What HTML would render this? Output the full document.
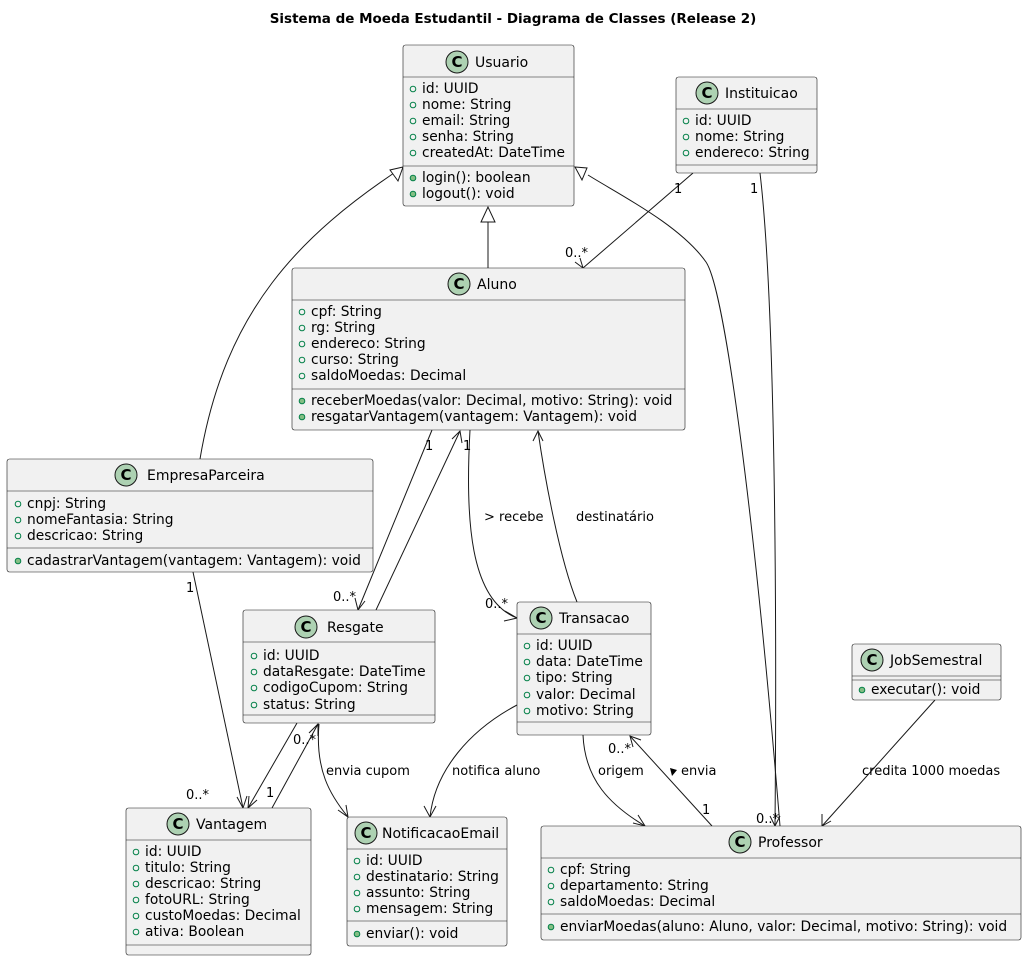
<!DOCTYPE html>
<html><head><meta charset="utf-8"><style>
html,body{margin:0;padding:0;background:#fff;}
svg{display:block;font-family:"DejaVu Sans","Liberation Sans",sans-serif;}
.b{fill:#F1F1F1;stroke:#181818;stroke-width:0.6;}
.s{stroke:#181818;stroke-width:0.6;}
.t{font-size:14px;fill:#000;}
.a{font-size:13.8px;fill:#000;}
.ci{fill:#ADD1B2;stroke:#181818;stroke-width:1;}
.cl{font-size:15px;font-weight:bold;fill:#000;}
.ho{fill:none;stroke:#038048;stroke-width:1;}
.fo{fill:#84BE84;stroke:#038048;stroke-width:1;}
.e{fill:none;stroke:#181818;stroke-width:1;}
.l{font-size:13px;fill:#000;}
</style></head><body>
<svg width="1027" height="960" viewBox="0 0 1027 960" xmlns="http://www.w3.org/2000/svg">
<text x="513" y="23" text-anchor="middle" style="font-size:13.5px;font-weight:bold">Sistema de Moeda Estudantil - Diagrama de Classes (Release 2)</text>

<!-- edges -->
<path class="e" d="M200,459 C225,310 300,235 403,167"/>
<polygon points="403,167 390,170 398,181" fill="#fff" stroke="#181818"/>
<line class="e" x1="488" y1="268" x2="488" y2="222"/>
<polygon points="488,207 481,222 495,222" fill="#fff" stroke="#181818"/>
<path class="e" d="M780,826 C755,520 725,290 706,262 C680,225 620,195 588,175"/>
<polygon points="575,167 587,168 582,180" fill="#fff" stroke="#181818"/>
<line class="e" x1="693" y1="173" x2="583" y2="268"/>
<path class="e" d="M575,262 L583,268 L580,258"/>
<text class="l" x="674" y="193">1</text><text class="l" x="565" y="257">0..*</text>
<path class="e" d="M760,173 C775,300 777,600 775,826"/>
<path class="e" d="M770,816 L775,826 L780,816"/>
<text class="l" x="750" y="193">1</text><text class="l" x="756" y="823">0..*</text>
<line class="e" x1="432" y1="430" x2="358" y2="610"/>
<path class="e" d="M355,598 L358,610 L365,601"/>
<text class="l" x="425" y="450">1</text><text class="l" x="333" y="601">0..*</text>
<line class="e" x1="376" y1="610" x2="460" y2="431"/>
<path class="e" d="M452,439 L460,431 L462,443"/>
<path class="e" d="M470,430 C465,520 470,600 517,618"/>
<path class="e" d="M505,611 L517,618 L504,621"/>
<text class="l" x="463" y="450">1</text><text class="l" x="485" y="608">0..*</text>
<text class="l" x="484" y="521">&gt; recebe</text>
<path class="e" d="M577,602 C560,560 545,480 538,431"/>
<path class="e" d="M533,441 L538,431 L543,441"/>
<text class="l" x="576" y="521">destinatário</text>
<path class="e" d="M517,705 C470,730 435,770 430,817"/>
<path class="e" d="M424,806 L430,817 L436,806"/>
<text class="l" x="452" y="775">notifica aluno</text>
<path class="e" d="M583,735 C585,780 610,805 645,826"/>
<path class="e" d="M633,823 L645,826 L638,815"/>
<text class="l" x="598" y="775">origem</text>
<line class="e" x1="712" y1="826" x2="630" y2="736"/>
<path class="e" d="M633,747 L630,736 L641,740"/>
<text class="l" x="702" y="814">1</text><text class="l" x="608" y="753">0..*</text>
<polygon points="670,768 677,770 672,776" fill="#000"/>
<text class="l" x="681" y="775">envia</text>
<line class="e" x1="935" y1="700" x2="822" y2="826"/>
<path class="e" d="M822,814 L822,826 L831,821"/>
<text class="l" x="862" y="775">credita 1000 moedas</text>
<line class="e" x1="193" y1="572" x2="243" y2="808"/>
<path class="e" d="M237,797 L243,808 L247,796"/>
<text class="l" x="186" y="592">1</text><text class="l" x="186" y="799">0..*</text>
<line class="e" x1="297" y1="723" x2="248" y2="808"/>
<path class="e" d="M249,796 L248,808 L257,800"/>
<line class="e" x1="272" y1="808" x2="318" y2="724"/>
<path class="e" d="M309,733 L318,724 L318,736"/>
<text class="l" x="266" y="797">1</text><text class="l" x="293" y="744">0..*</text>
<path class="e" d="M319,724 C315,770 330,795 348,817"/>
<path class="e" d="M338,810 L348,817 L346,805"/>
<text class="l" x="326" y="775">envia cupom</text>

<!-- Usuario -->
<rect class="b" x="403" y="45" width="171" height="161" rx="2.5"/>
<circle class="ci" cx="457" cy="62" r="11"/><text class="cl" x="457" y="67" text-anchor="middle">C</text>
<text class="t" x="475" y="67">Usuario</text>
<line class="s" x1="403" y1="77" x2="574" y2="77"/>
<g class="a"><circle class="ho" cx="413" cy="89" r="2.8"/><text x="422" y="93">id: UUID</text>
<circle class="ho" cx="413" cy="105" r="2.8"/><text x="422" y="109">nome: String</text>
<circle class="ho" cx="413" cy="121" r="2.8"/><text x="422" y="125">email: String</text>
<circle class="ho" cx="413" cy="137" r="2.8"/><text x="422" y="141">senha: String</text>
<circle class="ho" cx="413" cy="153" r="2.8"/><text x="422" y="157">createdAt: DateTime</text></g>
<line class="s" x1="403" y1="166" x2="574" y2="166"/>
<g class="a"><circle class="fo" cx="413" cy="178" r="2.8"/><text x="422" y="182">login(): boolean</text>
<circle class="fo" cx="413" cy="194" r="2.8"/><text x="422" y="198">logout(): void</text></g>

<!-- Instituicao -->
<rect class="b" x="676" y="77" width="141" height="96" rx="2.5"/>
<circle class="ci" cx="707" cy="93" r="11"/><text class="cl" x="707" y="98" text-anchor="middle">C</text>
<text class="t" x="725" y="98">Instituicao</text>
<line class="s" x1="676" y1="109" x2="817" y2="109"/>
<g class="a"><circle class="ho" cx="686" cy="121" r="2.8"/><text x="695" y="125">id: UUID</text>
<circle class="ho" cx="686" cy="137" r="2.8"/><text x="695" y="141">nome: String</text>
<circle class="ho" cx="686" cy="153" r="2.8"/><text x="695" y="157">endereco: String</text></g>
<line class="s" x1="676" y1="165" x2="817" y2="165"/>

<!-- Aluno -->
<rect class="b" x="292" y="268" width="393" height="162" rx="2.5"/>
<circle class="ci" cx="459" cy="284" r="11"/><text class="cl" x="459" y="289" text-anchor="middle">C</text>
<text class="t" x="477" y="289">Aluno</text>
<line class="s" x1="292" y1="300" x2="685" y2="300"/>
<g class="a"><circle class="ho" cx="302" cy="312" r="2.8"/><text x="311" y="316">cpf: String</text>
<circle class="ho" cx="302" cy="328" r="2.8"/><text x="311" y="332">rg: String</text>
<circle class="ho" cx="302" cy="344" r="2.8"/><text x="311" y="348">endereco: String</text>
<circle class="ho" cx="302" cy="360" r="2.8"/><text x="311" y="364">curso: String</text>
<circle class="ho" cx="302" cy="376" r="2.8"/><text x="311" y="380">saldoMoedas: Decimal</text></g>
<line class="s" x1="292" y1="389" x2="685" y2="389"/>
<g class="a"><circle class="fo" cx="302" cy="401" r="2.8"/><text x="311" y="405">receberMoedas(valor: Decimal, motivo: String): void</text>
<circle class="fo" cx="302" cy="417" r="2.8"/><text x="311" y="421">resgatarVantagem(vantagem: Vantagem): void</text></g>

<!-- EmpresaParceira -->
<rect class="b" x="7" y="459" width="366" height="113" rx="2.5"/>
<circle class="ci" cx="126" cy="475" r="11"/><text class="cl" x="126" y="480" text-anchor="middle">C</text>
<text class="t" x="147" y="480">EmpresaParceira</text>
<line class="s" x1="7" y1="491" x2="373" y2="491"/>
<g class="a"><circle class="ho" cx="18" cy="504" r="2.8"/><text x="27" y="508">cnpj: String</text>
<circle class="ho" cx="18" cy="520" r="2.8"/><text x="27" y="524">nomeFantasia: String</text>
<circle class="ho" cx="18" cy="536" r="2.8"/><text x="27" y="540">descricao: String</text></g>
<line class="s" x1="7" y1="548" x2="373" y2="548"/>
<g class="a"><circle class="fo" cx="18" cy="561" r="2.8"/><text x="27" y="565">cadastrarVantagem(vantagem: Vantagem): void</text></g>

<!-- Resgate -->
<rect class="b" x="243" y="610" width="192" height="113" rx="2.5"/>
<circle class="ci" cx="306" cy="627" r="11"/><text class="cl" x="306" y="632" text-anchor="middle">C</text>
<text class="t" x="327" y="632">Resgate</text>
<line class="s" x1="243" y1="642" x2="435" y2="642"/>
<g class="a"><circle class="ho" cx="254" cy="656" r="2.8"/><text x="263" y="660">id: UUID</text>
<circle class="ho" cx="254" cy="672" r="2.8"/><text x="263" y="676">dataResgate: DateTime</text>
<circle class="ho" cx="254" cy="688" r="2.8"/><text x="263" y="692">codigoCupom: String</text>
<circle class="ho" cx="254" cy="705" r="2.8"/><text x="263" y="709">status: String</text></g>
<line class="s" x1="243" y1="715" x2="435" y2="715"/>

<!-- Transacao -->
<rect class="b" x="517" y="602" width="134" height="133" rx="2.5"/>
<circle class="ci" cx="541" cy="618" r="11"/><text class="cl" x="541" y="623" text-anchor="middle">C</text>
<text class="t" x="559" y="623">Transacao</text>
<line class="s" x1="517" y1="634" x2="651" y2="634"/>
<g class="a"><circle class="ho" cx="527" cy="646" r="2.8"/><text x="536" y="650">id: UUID</text>
<circle class="ho" cx="527" cy="662" r="2.8"/><text x="536" y="666">data: DateTime</text>
<circle class="ho" cx="527" cy="678" r="2.8"/><text x="536" y="682">tipo: String</text>
<circle class="ho" cx="527" cy="695" r="2.8"/><text x="536" y="699">valor: Decimal</text>
<circle class="ho" cx="527" cy="711" r="2.8"/><text x="536" y="715">motivo: String</text></g>
<line class="s" x1="517" y1="722" x2="651" y2="722"/>

<!-- JobSemestral -->
<rect class="b" x="852" y="644" width="149" height="56" rx="2.5"/>
<circle class="ci" cx="872" cy="660" r="11"/><text class="cl" x="872" y="665" text-anchor="middle">C</text>
<text class="t" x="890" y="665">JobSemestral</text>
<line class="s" x1="852" y1="676" x2="1001" y2="676"/>
<line class="s" x1="852" y1="680" x2="1001" y2="680"/>
<g class="a"><circle class="fo" cx="862" cy="690" r="2.8"/><text x="871" y="694">executar(): void</text></g>

<!-- Vantagem -->
<rect class="b" x="126" y="808" width="185" height="147" rx="2.5"/>
<circle class="ci" cx="178" cy="824" r="11"/><text class="cl" x="178" y="829" text-anchor="middle">C</text>
<text class="t" x="196" y="829">Vantagem</text>
<line class="s" x1="126" y1="840" x2="311" y2="840"/>
<g class="a"><circle class="ho" cx="136" cy="852" r="2.8"/><text x="145" y="856">id: UUID</text>
<circle class="ho" cx="136" cy="868" r="2.8"/><text x="145" y="872">titulo: String</text>
<circle class="ho" cx="136" cy="884" r="2.8"/><text x="145" y="888">descricao: String</text>
<circle class="ho" cx="136" cy="900" r="2.8"/><text x="145" y="904">fotoURL: String</text>
<circle class="ho" cx="136" cy="916" r="2.8"/><text x="145" y="920">custoMoedas: Decimal</text>
<circle class="ho" cx="136" cy="932" r="2.8"/><text x="145" y="936">ativa: Boolean</text></g>
<line class="s" x1="126" y1="945" x2="311" y2="945"/>

<!-- NotificacaoEmail -->
<rect class="b" x="347" y="817" width="160" height="129" rx="2.5"/>
<circle class="ci" cx="366" cy="833" r="11"/><text class="cl" x="366" y="838" text-anchor="middle">C</text>
<text class="t" x="382" y="838">NotificacaoEmail</text>
<line class="s" x1="347" y1="849" x2="507" y2="849"/>
<g class="a"><circle class="ho" cx="357" cy="861" r="2.8"/><text x="366" y="865">id: UUID</text>
<circle class="ho" cx="357" cy="877" r="2.8"/><text x="366" y="881">destinatario: String</text>
<circle class="ho" cx="357" cy="893" r="2.8"/><text x="366" y="897">assunto: String</text>
<circle class="ho" cx="357" cy="909" r="2.8"/><text x="366" y="913">mensagem: String</text></g>
<line class="s" x1="347" y1="921" x2="507" y2="921"/>
<g class="a"><circle class="fo" cx="357" cy="934" r="2.8"/><text x="366" y="938">enviar(): void</text></g>

<!-- Professor -->
<rect class="b" x="541" y="826" width="480" height="114" rx="2.5"/>
<circle class="ci" cx="740" cy="842" r="11"/><text class="cl" x="740" y="847" text-anchor="middle">C</text>
<text class="t" x="758" y="847">Professor</text>
<line class="s" x1="541" y1="858" x2="1021" y2="858"/>
<g class="a"><circle class="ho" cx="551" cy="870" r="2.8"/><text x="560" y="874">cpf: String</text>
<circle class="ho" cx="551" cy="886" r="2.8"/><text x="560" y="890">departamento: String</text>
<circle class="ho" cx="551" cy="902" r="2.8"/><text x="560" y="906">saldoMoedas: Decimal</text></g>
<line class="s" x1="541" y1="914" x2="1021" y2="914"/>
<g class="a"><circle class="fo" cx="551" cy="927" r="2.8"/><text x="560" y="931">enviarMoedas(aluno: Aluno, valor: Decimal, motivo: String): void</text></g>
</svg>
</body></html>
